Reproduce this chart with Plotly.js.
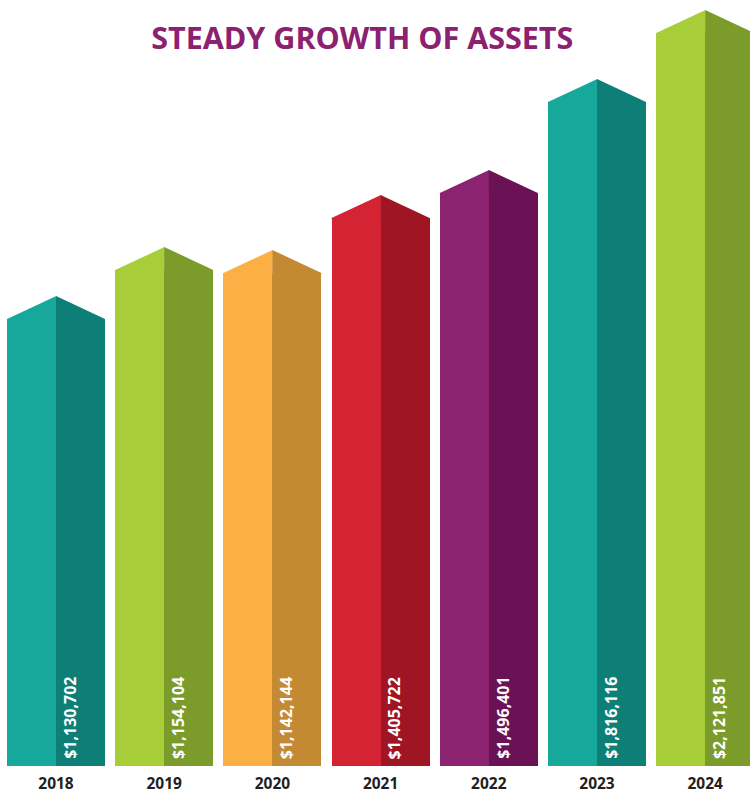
<!DOCTYPE html>
<html>
<head>
<meta charset="utf-8">
<script src="https://cdn.plot.ly/plotly-3.0.1.min.js"></script>
<style>html,body{margin:0;padding:0;background:#fff;}#chart{width:750px;height:794px;}</style>
</head>
<body>
<div id="chart"></div>
<script>
// Data
const years = ["2018", "2019", "2020", "2021", "2022", "2023", "2024"];
const assetLabels = ["$1,130,702", "$1,154,104", "$1,142,144", "$1,405,722", "$1,496,401", "$1,816,116", "$2,121,851"];
// drawn height of each column's side edge (chart units, as pictured)
const barHeights = [447, 496, 493, 548, 573, 664, 733];
const roofRise = 23;
const lightColors = ["#17a89c", "#a7cd39", "#fbaf44", "#d42333", "#8b2370", "#17a89c", "#a7cd39"];
const darkColors  = ["#0e7f76", "#7b9b2b", "#c48a33", "#a01523", "#6b1156", "#0e7f76", "#7b9b2b"];

const idx = years.map((_, i) => i);
const half = 0.4529;

const traces = [];
traces.push({
  type: "bar", x: idx, y: barHeights, width: half, offset: -half,
  marker: {color: lightColors, line: {width: 0}}, hoverinfo: "skip", showlegend: false
});
traces.push({
  type: "bar", x: idx, y: barHeights, width: half, offset: 0,
  marker: {color: darkColors, line: {width: 0}}, hoverinfo: "skip", showlegend: false
});
idx.forEach(i => {
  const h = barHeights[i];
  traces.push({
    type: "scatter", mode: "lines", fill: "toself", fillcolor: lightColors[i],
    x: [i - half, i, i + 0.003, i + 0.003, i - half],
    y: [h, h + roofRise, h + roofRise, h - 1, h - 1],
    line: {width: 0, color: lightColors[i]}, hoverinfo: "skip", showlegend: false
  });
  traces.push({
    type: "scatter", mode: "lines", fill: "toself", fillcolor: darkColors[i],
    x: [i, i + half, i + half, i],
    y: [h + roofRise, h, h - 1, h - 1],
    line: {width: 0, color: darkColors[i]}, hoverinfo: "skip", showlegend: false
  });
});

const annotations = idx.map(i => ({
  x: i + 0.128, y: 5, xref: "x", yref: "y",
  text: assetLabels[i], textangle: -90, showarrow: false,
  xanchor: "center", yanchor: "bottom",
  font: {family: "Open Sans", size: 16, color: "#ffffff", weight: 700}
}));

const layout = {
  width: 750, height: 794,
  margin: {l: 0, r: 0, t: 0, b: 28},
  paper_bgcolor: "#ffffff", plot_bgcolor: "#ffffff",
  title: {
    text: "STEADY GROWTH OF ASSETS",
    font: {family: "Open Sans", size: 30.5, color: "#8b2170", weight: 700},
    x: 0.483, xanchor: "center", xref: "paper",
    y: 1 - 38 / 794, yref: "container", yanchor: "middle"
  },
  xaxis: {
    range: [-56 / 108.2, (750 - 56) / 108.2],
    tickvals: idx, ticktext: years,
    tickfont: {family: "Open Sans", size: 15.5, color: "#231f20", weight: 700},
    showgrid: false, zeroline: false, showline: false, ticks: "",
    ticklabelstandoff: 6, fixedrange: true
  },
  yaxis: {
    range: [0, 766], visible: false, showgrid: false, zeroline: false, fixedrange: true
  },
  bargap: 0, barmode: "overlay",
  annotations: annotations
};

Plotly.newPlot("chart", traces, layout, {displayModeBar: false, staticPlot: true});
</script>
</body>
</html>
